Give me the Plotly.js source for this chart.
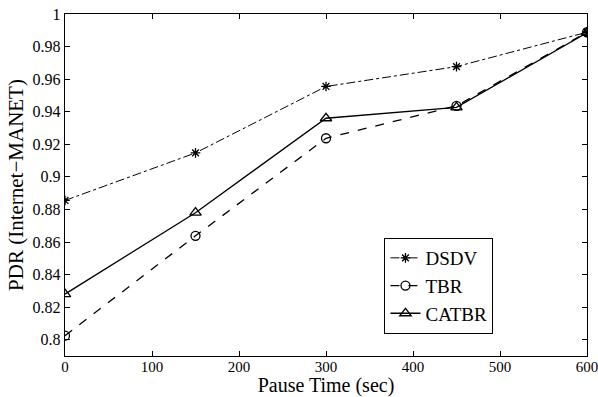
<!DOCTYPE html>
<html>
<head>
<meta charset="utf-8">
<script src="https://cdn.plot.ly/plotly-3.0.1.min.js"></script>
<style>html,body{margin:0;padding:0;background:#fff;}</style>
</head>
<body>
<div id="chart" style="width:598px;height:397px;"></div>
<script>
const pauseTime = [0, 150, 300, 450, 600];
const dsdv = [0.8855, 0.9147, 0.9555, 0.9677, 0.9888];
const tbr = [0.8025, 0.8638, 0.9237, 0.9436, 0.9888];
const catbr = [0.828, 0.878, 0.936, 0.9427, 0.9885];
const xTicks = [0, 100, 200, 300, 400, 500, 600];
const yTicks = [0.8, 0.82, 0.84, 0.86, 0.88, 0.9, 0.92, 0.94, 0.96, 0.98, 1];
const yTickText = ['0.8','0.82','0.84','0.86','0.88','0.9','0.92','0.94','0.96','0.98','1'];

const font = {family: '"Liberation Serif", "DejaVu Serif", serif', color: '#000'};
const traces = [
  {x: pauseTime, y: dsdv, name: 'DSDV', mode: 'lines+markers',
   line: {color: '#000', width: 1, dash: 'dashdot'},
   marker: {symbol: 'asterisk-open', size: 8, color: '#000', line: {color: '#000', width: 1.3}}},
  {x: pauseTime, y: tbr, name: 'TBR', mode: 'lines+markers',
   line: {color: '#000', width: 1.3, dash: 'dash'},
   marker: {symbol: 'circle-open', size: 9, color: '#000', line: {color: '#000', width: 1.3}}},
  {x: pauseTime, y: catbr, name: 'CATBR', mode: 'lines+markers',
   line: {color: '#000', width: 1.3},
   marker: {symbol: 'triangle-up-open', size: 10, color: '#000', line: {color: '#000', width: 1.3}}}
];
const layout = {
  width: 598, height: 397,
  margin: {l: 65, r: 11, t: 14, b: 41},
  paper_bgcolor: '#fff', plot_bgcolor: '#fff',
  font: Object.assign({size: 16}, font),
  showlegend: true,
  legend: {x: 0.612, y: 0.345, xanchor: 'left', yanchor: 'top',
    bordercolor: '#000', borderwidth: 1, bgcolor: '#fff', itemwidth: 30,
    font: Object.assign({size: 19}, font), tracegroupgap: 0},
  xaxis: {range: [0, 600], tickvals: xTicks, ticks: 'inside', ticklen: 5,
    tickcolor: '#000', showline: true, linecolor: '#000', linewidth: 1.2, mirror: 'ticks',
    showgrid: false, zeroline: false, ticklabeloverflow: 'allow', ticklabelstandoff: -3,
    tickfont: Object.assign({size: 15}, font),
    title: {text: 'Pause Time (sec)', font: Object.assign({size: 20}, font), standoff: 0}},
  yaxis: {range: [0.79, 1], tickvals: yTicks, ticktext: yTickText, ticks: 'inside', ticklen: 5,
    tickcolor: '#000', showline: true, linecolor: '#000', linewidth: 1.2, mirror: 'ticks',
    showgrid: false, zeroline: false, ticklabeloverflow: 'allow',
    tickfont: Object.assign({size: 16}, font),
    title: {text: 'PDR (Internet\u2212MANET)', font: Object.assign({size: 21}, font), standoff: 3}}
};
Plotly.newPlot('chart', traces, layout, {displayModeBar: false, staticPlot: true});
</script>
</body>
</html>
